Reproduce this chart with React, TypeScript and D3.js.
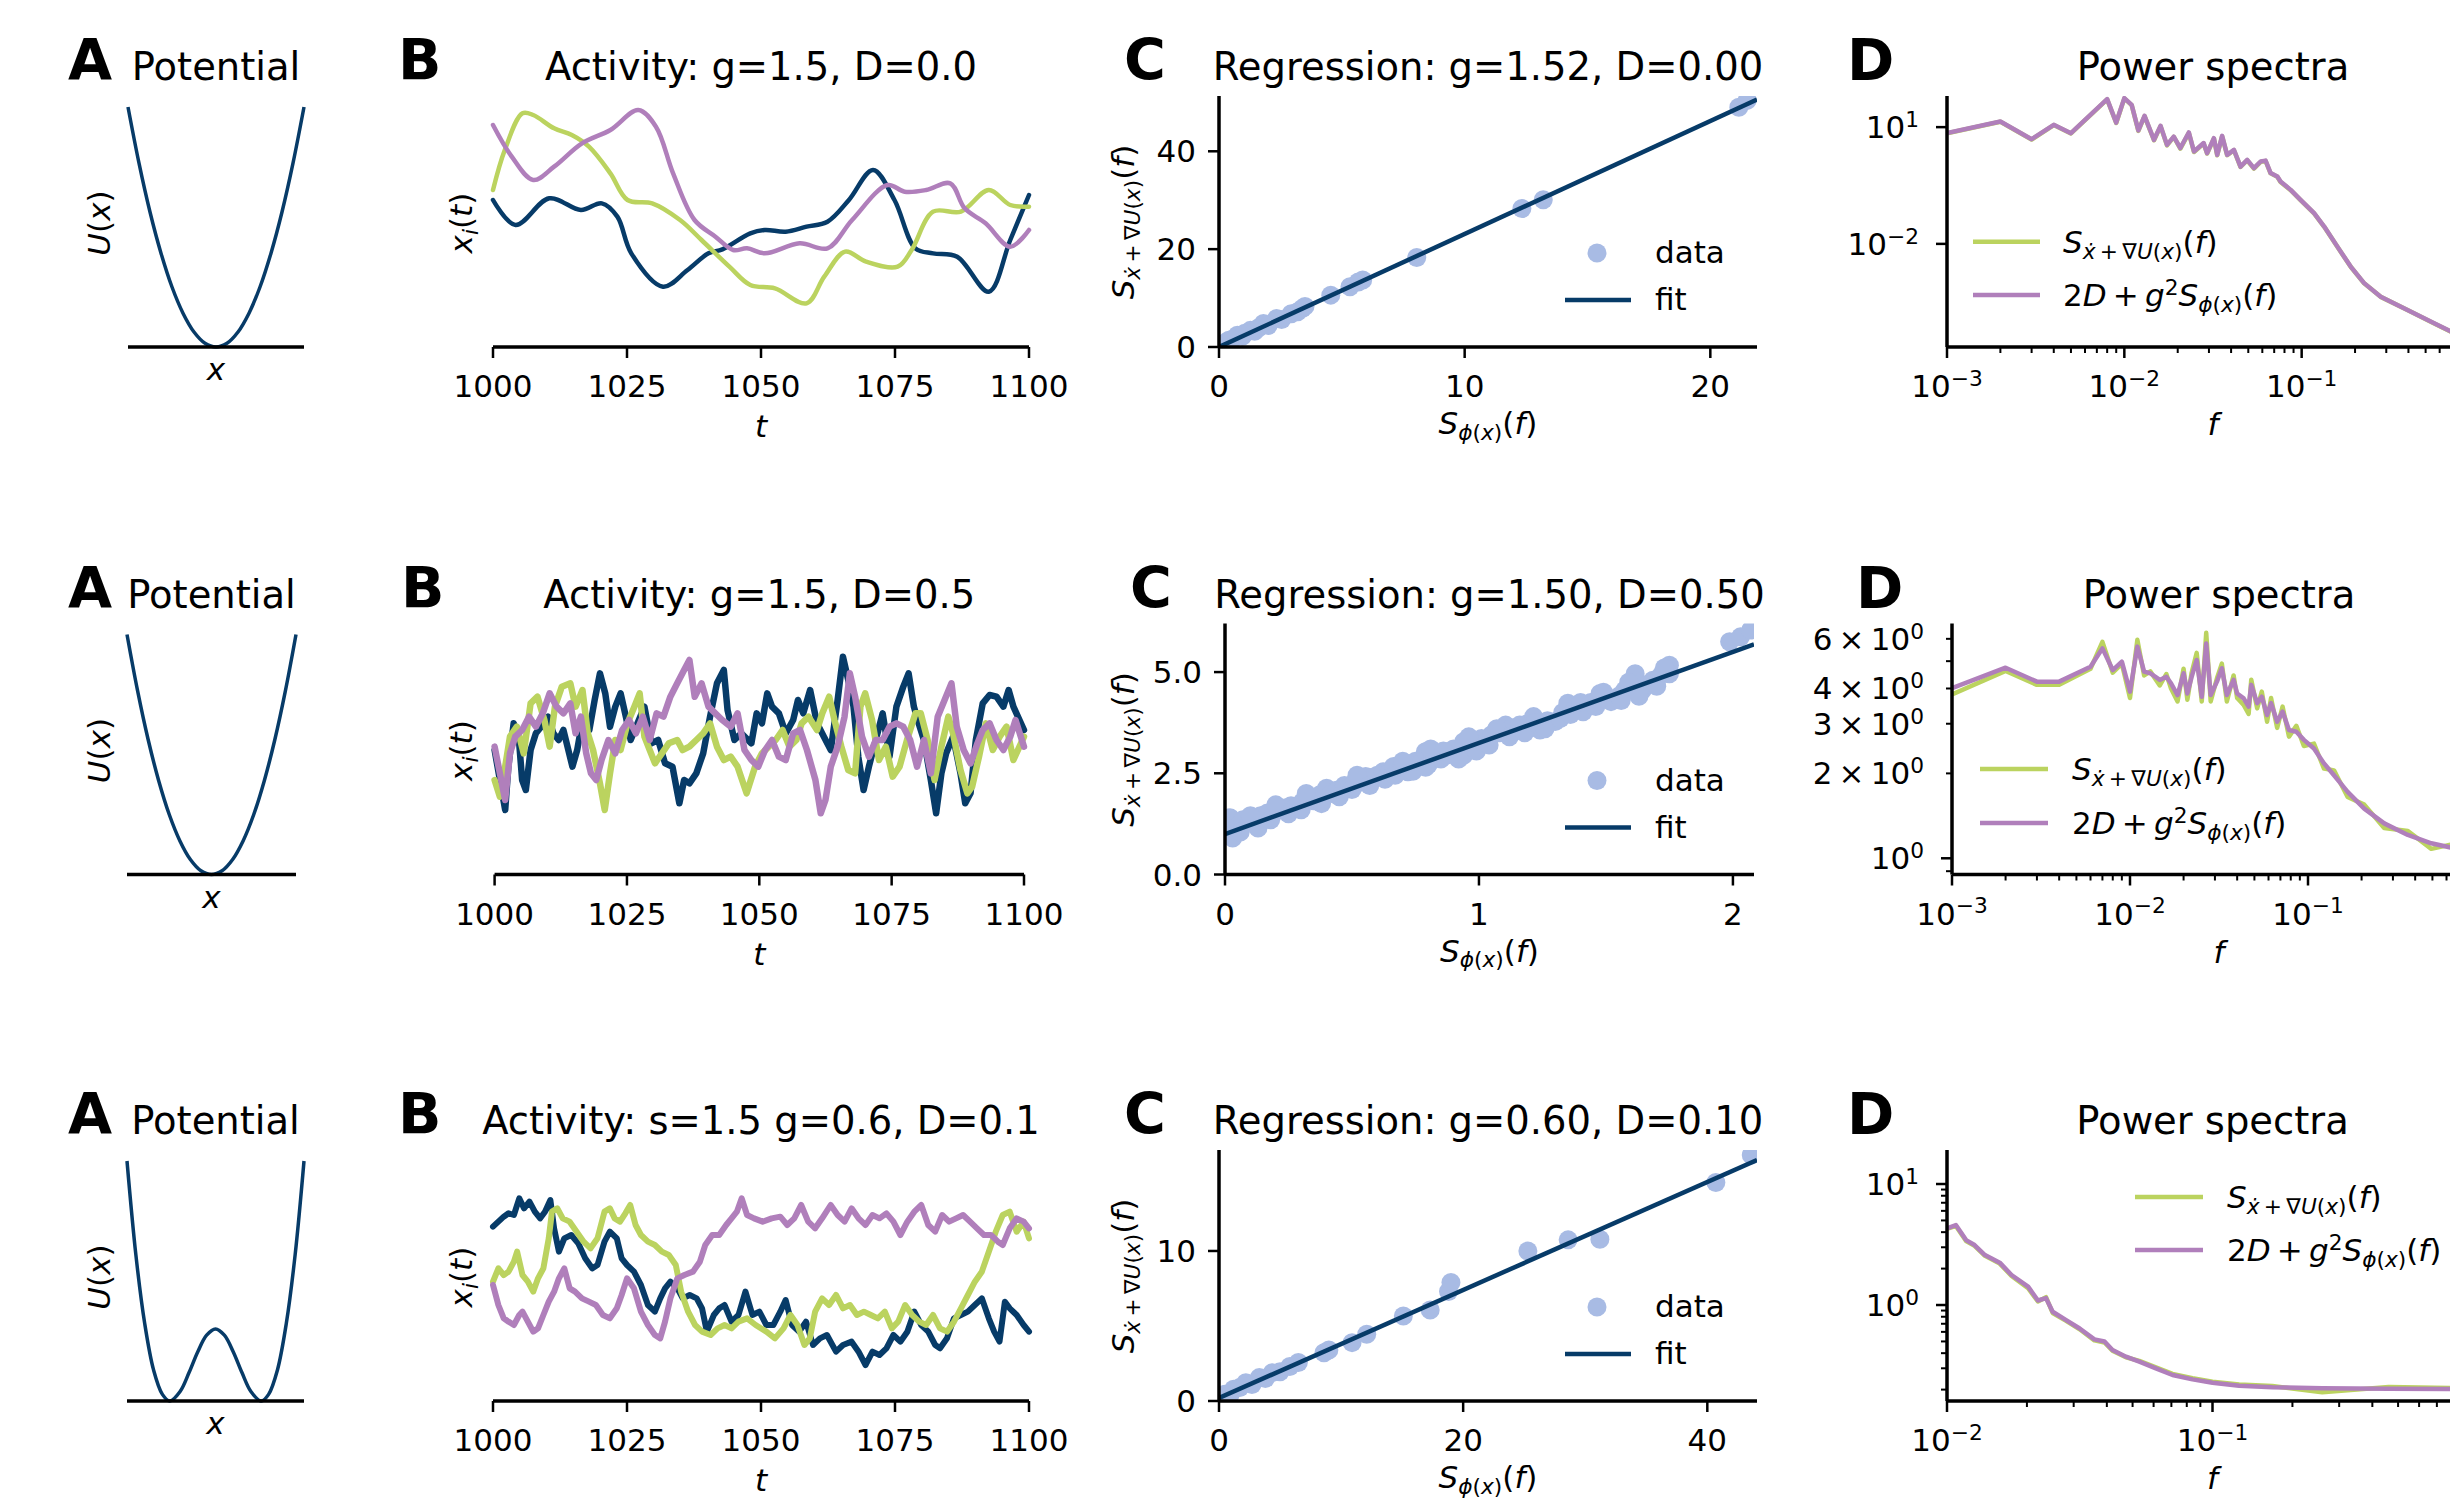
import React from "react";
import * as d3 from "d3";

const W = 2450;
const H = 1502;
const FONT = "'DejaVu Sans', sans-serif";
const NAVY = "#073b68";
const GREEN = "#bbd35f";
const PURPLE = "#b07fbb";
const DOT = "#a8bbe4";
const FS = 31;
const TFS = 38.5;
const LFS = 57;

// ---------------- DATA ----------------
// Panel A potentials
const wellX = [-1, -0.875, -0.75, -0.625, -0.5, -0.375, -0.25, -0.125, 0, 0.125, 0.25, 0.375, 0.5, 0.625, 0.75, 0.875, 1];
const wellU = [1, 0.766, 0.5625, 0.391, 0.25, 0.141, 0.0625, 0.0156, 0, 0.0156, 0.0625, 0.141, 0.25, 0.391, 0.5625, 0.766, 1];
const doubleX = [-2.5, -2.25, -2, -1.75, -1.5, -1.29, -1.0, -0.75, -0.5, -0.25, 0, 0.25, 0.5, 0.75, 1.0, 1.29, 1.5, 1.75, 2, 2.25, 2.5];
const doubleU = [0.579, 0.353, 0.187, 0.075, 0.016, 0, 0.023, 0.068, 0.119, 0.159, 0.174, 0.159, 0.119, 0.068, 0.023, 0, 0.016, 0.075, 0.187, 0.353, 0.579];

// Panel B activity traces [t, x_i]
const act1Navy = [[1000, 0.0], [1004.2, -0.75], [1010.5, 0.05], [1016.4, -0.3], [1020.3, -0.1], [1023.2, -0.5], [1025.8, -1.6], [1031.7, -2.6], [1036.3, -2.1], [1040.2, -1.6], [1042.8, -1.48], [1048.0, -1.0], [1050.7, -0.9], [1054.6, -0.95], [1058.5, -0.8], [1062.4, -0.65], [1066.4, 0.0], [1070.9, 0.9], [1074.9, 0.0], [1078.8, -1.45], [1082.1, -1.6], [1086.6, -1.7], [1092.5, -2.75], [1096.5, -1.2], [1100, 0.15]];
const act1Green = [[1000, 0.3], [1002.2, 1.5], [1005.5, 2.6], [1007.5, 2.55], [1011.4, 2.15], [1014.7, 1.95], [1017.9, 1.6], [1021.9, 0.8], [1025.1, 0.0], [1029.7, -0.1], [1034.9, -0.6], [1038.9, -1.2], [1044.1, -2.0], [1048.0, -2.55], [1052.6, -2.65], [1058.5, -3.1], [1061.8, -2.3], [1065.7, -1.55], [1069.6, -1.85], [1075.5, -2.0], [1078.1, -1.5], [1082.1, -0.35], [1087.3, -0.35], [1092.5, 0.3], [1096.5, -0.15], [1100, -0.2]];
const act1Purple = [[1000, 2.25], [1003.5, 1.3], [1007.5, 0.6], [1011.4, 1.0], [1016.6, 1.7], [1021.9, 2.1], [1027.1, 2.7], [1030.4, 2.2], [1033.6, 0.8], [1037.6, -0.6], [1041.5, -1.1], [1044.8, -1.5], [1047.4, -1.45], [1050.7, -1.6], [1057.2, -1.3], [1062.4, -1.45], [1067.0, -0.6], [1073.6, 0.45], [1076.8, 0.25], [1080.8, 0.3], [1085.3, 0.5], [1088.0, -0.25], [1091.9, -0.7], [1096.5, -1.4], [1100, -0.9]];

const act2Navy = [[1000, -0.3], [1001.0, -1.2], [1002.0, -2.1], [1002.6, -0.8], [1003.6, 0.5], [1004.6, 0.0], [1005.2, -1.2], [1005.9, -1.5], [1006.8, -0.3], [1007.8, 0.2], [1008.8, 0.4], [1010.1, 0.7], [1011.1, 0.2], [1012.1, 0.0], [1013.0, 0.3], [1014.7, -0.8], [1015.6, -0.3], [1016.6, 0.6], [1017.9, 0.3], [1018.9, 1.2], [1019.9, 2.0], [1020.9, 1.4], [1021.8, 0.4], [1022.8, 1.0], [1023.8, 1.4], [1024.8, 0.7], [1025.7, 0.0], [1027.0, 0.5], [1028.3, 1.0], [1029.6, -0.1], [1030.9, 0.0], [1032.2, -0.7], [1033.6, -0.8], [1034.9, -1.9], [1035.8, -1.2], [1036.8, -1.3], [1038.1, -1.0], [1039.4, -0.4], [1040.7, 0.7], [1042.0, 1.7], [1043.3, 2.1], [1044.0, 0.9], [1045.3, 0.0], [1046.6, 0.2], [1048.5, -0.1], [1049.5, 0.8], [1050.5, 0.5], [1051.5, 1.4], [1052.4, 1.0], [1053.7, 0.8], [1055.0, 0.2], [1056.4, 0.6], [1057.3, 1.2], [1058.3, 0.8], [1059.6, 1.5], [1060.9, 0.5], [1062.2, 0.1], [1063.5, -0.3], [1064.8, 1.2], [1065.8, 2.5], [1066.8, 1.8], [1067.8, 1.0], [1068.7, -0.5], [1069.7, -1.5], [1070.7, -0.8], [1072.0, 0.0], [1073.3, 0.8], [1074.6, -0.5], [1075.9, 1.0], [1077.2, 1.6], [1078.2, 2.0], [1079.2, 1.0], [1080.1, 0.5], [1081.1, 0.0], [1082.4, -1.2], [1083.4, -2.2], [1084.4, -1.0], [1085.3, -0.4], [1086.6, 0.1], [1088.0, -1.0], [1088.9, -1.9], [1089.9, -1.6], [1090.9, 0.0], [1092.2, 1.1], [1093.5, 1.35], [1094.8, 1.3], [1096.1, 1.0], [1097.1, 1.5], [1098.0, 1.0], [1100, 0.3]];
const act2Green = [[1000, -1.2], [1001.0, -1.7], [1002.0, -0.8], [1002.9, 0.1], [1004.2, 0.4], [1005.5, -0.4], [1006.8, 1.1], [1008.1, 1.3], [1009.4, 0.6], [1010.4, -0.2], [1011.4, 1.0], [1012.7, 1.6], [1014.3, 1.7], [1015.3, 1.0], [1016.6, 1.5], [1017.6, 0.2], [1018.6, -0.3], [1019.9, -1.3], [1020.8, -2.1], [1021.8, -1.0], [1022.8, 0.0], [1023.8, -0.3], [1025.1, 0.5], [1026.4, 1.0], [1027.4, 1.4], [1028.3, 0.1], [1029.3, -0.3], [1030.3, -0.7], [1031.6, -0.4], [1032.9, -0.1], [1034.5, 0.0], [1035.5, -0.3], [1036.8, -0.2], [1038.1, 0.0], [1039.4, 0.2], [1040.7, 0.5], [1042.0, -0.2], [1043.3, -0.6], [1044.6, -0.5], [1045.9, -0.8], [1047.6, -1.6], [1049.2, -0.8], [1050.5, -0.4], [1051.8, -0.2], [1053.1, 0.0], [1054.4, 0.3], [1055.7, -0.2], [1057.0, 0.0], [1058.0, 0.5], [1059.3, 0.7], [1060.9, 0.3], [1061.9, 0.8], [1063.2, 1.3], [1064.2, 0.6], [1065.5, -0.2], [1066.8, -0.9], [1068.1, -1.0], [1069.1, 1.0], [1070.0, 1.4], [1071.3, 0.6], [1072.6, -0.6], [1073.9, -0.2], [1075.2, -1.1], [1076.5, -0.8], [1077.9, 0.0], [1079.5, 0.8], [1080.5, 0.8], [1081.8, 0.0], [1083.1, -1.2], [1084.4, -0.2], [1085.7, 0.7], [1086.6, 0.2], [1088.0, -0.9], [1089.3, -1.6], [1090.2, -1.4], [1091.5, -0.5], [1092.8, 0.5], [1094.1, -0.3], [1095.4, 0.1], [1096.7, 0.4], [1098.0, -0.6], [1100, 0.1]];
const act2Purple = [[1000, -0.2], [1001.0, -1.0], [1002.0, -1.8], [1002.9, -0.4], [1003.9, 0.1], [1005.2, 0.3], [1006.5, 0.7], [1007.8, 0.4], [1009.1, 0.8], [1010.4, 1.4], [1011.7, 1.0], [1013.0, 0.8], [1014.3, 1.1], [1015.3, 0.2], [1016.3, 0.7], [1017.3, -0.4], [1018.2, -1.0], [1019.2, -1.2], [1020.2, -0.6], [1021.5, 0.0], [1022.8, -0.4], [1024.1, 0.3], [1025.4, 0.6], [1026.7, 0.2], [1028.0, 0.7], [1029.3, 0.0], [1030.6, 0.8], [1031.9, 0.7], [1033.2, 1.3], [1034.5, 1.7], [1035.8, 2.1], [1036.8, 2.4], [1037.8, 1.3], [1039.1, 1.7], [1040.4, 1.0], [1041.7, 0.8], [1043.0, 0.6], [1044.6, 0.4], [1045.9, 0.8], [1047.2, -0.3], [1048.5, -0.6], [1049.8, -0.8], [1051.1, -0.3], [1052.4, 0.0], [1053.7, -0.5], [1055.0, -0.6], [1056.4, 0.2], [1057.7, 0.3], [1059.0, -0.3], [1060.6, -1.2], [1061.6, -2.2], [1062.5, -1.8], [1063.5, -0.8], [1064.8, -0.2], [1066.1, 0.7], [1067.1, 2.0], [1068.1, 1.3], [1069.4, 0.1], [1070.7, -0.5], [1072.0, 0.0], [1073.3, 0.0], [1074.6, 0.4], [1075.9, 0.5], [1077.2, 0.4], [1078.5, 0.0], [1079.8, -0.8], [1081.1, 0.0], [1082.4, -1.0], [1083.7, 0.7], [1085.0, 1.2], [1086.3, 1.7], [1087.3, 0.4], [1088.6, -0.3], [1089.9, -0.7], [1091.2, -0.1], [1092.2, 0.3], [1093.5, 0.5], [1094.8, 0.0], [1096.1, -0.3], [1097.4, 0.1], [1098.4, 0.6], [1100, -0.2]];

const act3Navy = [[1000, 1.75], [1001.0, 1.9], [1002.0, 2.05], [1002.9, 2.15], [1003.9, 2.1], [1004.9, 2.6], [1005.8, 2.3], [1006.8, 2.5], [1007.8, 2.2], [1008.8, 2.0], [1009.7, 2.2], [1010.7, 2.55], [1011.4, 1.7], [1012.3, 1.0], [1013.3, 1.4], [1014.6, 1.5], [1015.9, 1.25], [1017.2, 0.8], [1018.5, 0.5], [1019.5, 0.6], [1020.8, 1.3], [1021.8, 1.6], [1023.1, 1.4], [1024.0, 0.8], [1025.0, 0.6], [1026.3, 0.4], [1027.6, 0.0], [1028.9, -0.6], [1030.2, -0.8], [1031.2, -0.4], [1032.1, -0.1], [1033.1, 0.1], [1034.4, -0.1], [1035.4, -0.4], [1036.7, -0.3], [1038.0, -0.4], [1039.0, -0.7], [1039.9, -1.4], [1041.2, -0.9], [1042.2, -0.7], [1043.2, -0.6], [1044.5, -1.1], [1045.8, -0.9], [1047.1, -0.2], [1048.4, -0.9], [1049.7, -0.8], [1051.0, -1.2], [1052.3, -1.2], [1053.6, -0.8], [1054.6, -0.45], [1055.8, -1.2], [1057.1, -1.4], [1058.4, -1.1], [1059.7, -1.8], [1061.0, -1.6], [1062.3, -1.5], [1064.0, -2.0], [1065.3, -1.8], [1066.9, -1.7], [1068.2, -2.0], [1069.5, -2.4], [1070.8, -2.0], [1072.1, -2.1], [1073.4, -1.9], [1074.7, -1.5], [1076.0, -1.7], [1077.3, -1.4], [1078.6, -0.8], [1079.9, -1.2], [1081.2, -1.4], [1082.5, -1.8], [1083.4, -1.9], [1084.7, -1.6], [1086.0, -1.0], [1087.3, -0.9], [1088.6, -0.8], [1089.9, -0.6], [1091.2, -0.4], [1092.5, -1.0], [1093.5, -1.4], [1094.5, -1.7], [1095.5, -0.5], [1096.4, -0.7], [1097.7, -0.9], [1099.0, -1.2], [1100, -1.4]];
const act3Green = [[1000, 0.1], [1001.0, 0.5], [1002.0, 0.3], [1002.9, 0.4], [1003.9, 0.7], [1004.5, 1.0], [1005.5, 0.3], [1006.5, 0.1], [1007.5, -0.2], [1008.4, 0.2], [1009.4, 0.5], [1010.4, 1.4], [1011.0, 2.2], [1012.0, 2.3], [1013.0, 2.0], [1014.3, 1.9], [1015.6, 1.6], [1016.9, 1.3], [1018.2, 1.1], [1019.5, 1.4], [1020.8, 2.2], [1021.8, 2.3], [1022.7, 2.0], [1023.7, 1.9], [1024.7, 2.15], [1025.6, 2.4], [1026.6, 1.8], [1027.6, 1.5], [1028.9, 1.3], [1030.2, 1.2], [1031.5, 1.0], [1032.8, 0.9], [1034.1, 0.6], [1035.1, -0.2], [1036.4, -0.8], [1037.7, -1.2], [1039.0, -1.4], [1040.6, -1.5], [1041.9, -1.3], [1043.2, -1.2], [1044.5, -1.3], [1045.8, -1.1], [1047.4, -1.0], [1049.0, -1.2], [1051.0, -1.4], [1052.6, -1.6], [1054.2, -1.3], [1055.5, -0.9], [1056.8, -1.2], [1058.1, -1.8], [1059.1, -1.6], [1060.1, -0.8], [1061.4, -0.4], [1062.7, -0.6], [1064.0, -0.3], [1065.3, -0.7], [1066.6, -0.6], [1067.9, -0.9], [1069.2, -0.8], [1070.5, -0.9], [1071.8, -1.0], [1073.1, -0.8], [1074.4, -1.3], [1075.6, -1.1], [1076.9, -0.6], [1078.2, -0.9], [1079.5, -1.1], [1080.8, -1.2], [1082.1, -0.9], [1083.4, -1.3], [1084.7, -1.4], [1086.0, -1.1], [1087.3, -0.7], [1088.6, -0.3], [1089.9, 0.1], [1091.2, 0.4], [1092.5, 1.0], [1093.8, 1.6], [1095.1, 2.1], [1096.4, 2.2], [1097.7, 1.6], [1099.0, 1.9], [1100, 1.4]];
const act3Purple = [[1000, 0.0], [1001.0, -0.6], [1002.0, -1.0], [1002.9, -1.1], [1003.9, -1.2], [1004.9, -0.9], [1005.5, -0.8], [1006.5, -1.1], [1007.5, -1.4], [1008.4, -1.3], [1009.4, -0.9], [1010.4, -0.5], [1011.4, -0.2], [1012.3, 0.2], [1013.3, 0.5], [1014.3, -0.1], [1015.3, -0.2], [1016.6, -0.4], [1017.9, -0.5], [1019.2, -0.6], [1020.5, -0.9], [1021.8, -1.0], [1023.1, -0.7], [1024.0, -0.3], [1025.0, 0.2], [1026.3, -0.1], [1027.6, -0.8], [1028.9, -1.2], [1030.2, -1.5], [1031.2, -1.6], [1032.1, -1.1], [1033.1, -0.4], [1034.4, 0.2], [1035.7, 0.3], [1037.3, 0.4], [1038.6, 0.7], [1039.6, 1.2], [1040.9, 1.5], [1042.2, 1.5], [1043.5, 1.8], [1044.5, 2.0], [1045.5, 2.2], [1046.4, 2.6], [1047.4, 2.1], [1048.7, 2.0], [1050.3, 1.9], [1052.0, 2.0], [1053.6, 2.05], [1054.9, 1.8], [1056.2, 2.0], [1057.5, 2.4], [1058.8, 1.9], [1060.1, 1.7], [1061.4, 2.0], [1063.0, 2.4], [1064.3, 2.1], [1065.6, 1.9], [1066.9, 2.3], [1068.2, 2.0], [1069.5, 1.8], [1070.8, 2.1], [1072.1, 2.0], [1073.4, 2.15], [1074.7, 1.9], [1076.0, 1.5], [1077.3, 1.9], [1078.6, 2.2], [1079.9, 2.4], [1081.2, 1.8], [1082.5, 1.6], [1083.8, 2.1], [1085.1, 1.9], [1086.4, 2.0], [1087.7, 2.1], [1089.0, 1.9], [1090.3, 1.7], [1091.6, 1.5], [1092.9, 1.5], [1094.2, 1.3], [1095.1, 1.2], [1096.4, 1.7], [1097.7, 2.0], [1099.0, 1.9], [1100, 1.7]];

// Panel C regression scatter [S_phi, S_xdot]
const reg1Data = [[0.12, 0.4], [0.25, 0.8], [0.4, 1.4], [0.55, 1.6], [0.75, 2.4], [0.95, 2.2], [1.05, 2.8], [1.28, 3.4], [1.45, 3.2], [1.6, 3.9], [1.81, 4.8], [2.0, 4.4], [2.34, 5.8], [2.55, 5.6], [2.94, 6.8], [3.2, 7.2], [3.39, 7.85], [3.5, 8.3], [4.55, 10.6], [5.33, 12.3], [5.67, 13.3], [5.85, 13.7], [8.05, 18.3], [12.33, 28.3], [13.2, 30.1], [21.16, 49.0], [21.5, 50.4]];
const reg2Data = [[0.0, 1.0], [0.01, 1.15], [0.02, 1.4], [0.03, 0.9], [0.05, 1.2], [0.07, 1.35], [0.095, 1.32], [0.12, 1.3], [0.14, 1.45], [0.167, 1.52], [0.19, 1.5], [0.21, 1.62], [0.236, 1.64], [0.26, 1.7], [0.28, 1.68], [0.305, 1.8], [0.33, 1.85], [0.35, 1.82], [0.374, 1.97], [0.4, 2.13], [0.42, 2.0], [0.443, 2.09], [0.47, 2.2], [0.49, 2.15], [0.512, 2.3], [0.534, 2.28], [0.554, 2.42], [0.58, 2.4], [0.6, 2.45], [0.623, 2.54], [0.645, 2.5], [0.664, 2.67], [0.69, 2.6], [0.72, 2.54], [0.75, 2.8], [0.77, 2.75], [0.789, 3.03], [0.8, 2.71], [0.82, 2.9], [0.85, 2.85], [0.872, 2.95], [0.9, 3.1], [0.94, 3.28], [0.94, 2.95], [0.97, 3.2], [1.01, 3.36], [1.03, 3.3], [1.05, 3.45], [1.08, 3.5], [1.105, 3.69], [1.13, 3.62], [1.16, 3.69], [1.19, 3.72], [1.215, 3.9], [1.24, 3.57], [1.27, 3.8], [1.3, 3.78], [1.33, 4.0], [1.35, 4.23], [1.38, 4.1], [1.41, 4.02], [1.44, 4.25], [1.477, 4.47], [1.5, 4.35], [1.52, 4.27], [1.55, 4.4], [1.574, 4.55], [1.6, 4.62], [1.615, 4.96], [1.643, 4.55], [1.665, 4.7], [1.685, 4.8], [1.72, 4.95], [1.75, 5.17], [1.75, 4.96], [1.987, 5.75], [2.03, 5.87], [2.07, 6.04],
  [0.06, 1.05], [0.1, 1.45], [0.13, 1.15], [0.18, 1.35], [0.2, 1.72], [0.25, 1.5], [0.3, 1.6], [0.32, 2.0], [0.38, 1.75], [0.45, 1.92], [0.5, 2.1], [0.52, 2.45], [0.57, 2.2], [0.63, 2.35], [0.67, 2.45], [0.7, 2.8], [0.74, 2.55], [0.79, 2.65], [0.81, 3.1], [0.86, 3.05], [0.92, 2.85], [0.96, 3.4], [0.99, 3.05], [1.04, 3.2], [1.07, 3.6], [1.12, 3.4], [1.18, 3.5], [1.22, 3.75], [1.26, 3.6], [1.32, 3.85], [1.36, 3.95], [1.4, 4.25], [1.46, 4.15], [1.49, 4.5], [1.56, 4.3], [1.59, 4.75], [1.63, 4.4], [1.7, 4.65], [1.73, 5.1]];
const reg3Data = [[0.5, 0.45], [0.9, 0.4], [1.2, 0.78], [1.7, 0.9], [2.2, 1.22], [2.7, 1.1], [3.3, 1.56], [3.8, 1.5], [4.37, 1.89], [5.0, 1.95], [5.8, 2.3], [6.5, 2.56], [8.6, 3.22], [9.0, 3.4], [10.9, 3.89], [12.1, 4.45], [15.1, 5.67], [17.3, 6.07], [18.8, 7.3], [19.0, 7.9], [25.3, 10.0], [28.6, 10.74], [31.2, 10.78], [40.7, 14.56], [43.6, 16.4]];

// Panel D power spectra
const spec1F = [0.001, 0.002, 0.003, 0.004, 0.005, 0.008, 0.009, 0.010, 0.011, 0.012, 0.013, 0.0147, 0.016, 0.0174, 0.019, 0.0207, 0.0231, 0.0247, 0.028, 0.0293, 0.032, 0.0334, 0.0356, 0.038, 0.0415, 0.0452, 0.0493, 0.0538, 0.0587, 0.0626, 0.0668, 0.0729, 0.076, 0.0867, 0.0986, 0.1175, 0.134, 0.159, 0.189, 0.225, 0.279, 0.395, 0.559, 0.695, 1.0];
const spec1Purple = [7.0, 13.9, 4.9, 11.5, 7.0, 52.4, 13.1, 55.6, 37.4, 8.2, 19.5, 4.72, 10.8, 3.5, 5.7, 2.9, 7.3, 2.36, 3.9, 2.14, 5.2, 1.94, 5.97, 1.94, 2.6, 0.97, 1.44, 0.88, 1.31, 1.38, 0.66, 0.54, 0.40, 0.244, 0.135, 0.0616, 0.0279, 0.0085, 0.00261, 0.00098, 0.00044, 0.000201, 0.0000912, 0.0000558, 0.000026];
const spec1Green = [6.9, 13.7, 4.8, 11.3, 6.9, 51.5, 12.8, 54.8, 36.8, 8.0, 19.1, 4.6, 10.6, 3.4, 5.6, 2.8, 7.1, 2.3, 3.8, 2.1, 5.1, 1.9, 5.8, 1.9, 2.55, 0.95, 1.41, 0.86, 1.28, 1.35, 0.65, 0.53, 0.39, 0.24, 0.133, 0.0608, 0.0275, 0.0084, 0.00258, 0.00097, 0.000435, 0.000199, 0.000090, 0.0000552, 0.0000258];

const spec2F = [0.001, 0.002, 0.003, 0.004, 0.006, 0.007, 0.008, 0.009, 0.010, 0.011, 0.012, 0.013, 0.0147, 0.016, 0.017, 0.0185, 0.020, 0.021, 0.0222, 0.0237, 0.0253, 0.0268, 0.0284, 0.0308, 0.0328, 0.035, 0.0382, 0.040, 0.0435, 0.0464, 0.048, 0.0518, 0.055, 0.0589, 0.062, 0.0671, 0.072, 0.0782, 0.086, 0.0948, 0.108, 0.123, 0.140, 0.167, 0.207, 0.268, 0.364, 0.493, 0.64, 1.0];
const spec2Purple = [4.01, 4.74, 4.23, 4.23, 4.78, 5.55, 4.65, 4.98, 3.90, 5.63, 4.59, 4.53, 4.29, 4.40, 4.17, 3.79, 4.53, 3.84, 4.40, 5.05, 3.74, 5.78, 3.79, 4.23, 4.72, 3.79, 4.29, 3.84, 3.69, 3.45, 4.12, 3.55, 3.74, 3.22, 3.55, 3.05, 3.31, 2.85, 2.81, 2.63, 2.45, 2.17, 1.97, 1.72, 1.50, 1.33, 1.21, 1.13, 1.09, 1.05];
const spec2Green = [3.81, 4.62, 4.12, 4.12, 4.70, 5.85, 4.55, 4.90, 3.70, 5.95, 4.45, 4.60, 4.10, 4.50, 4.00, 3.60, 4.70, 3.65, 4.55, 5.35, 3.60, 6.30, 3.60, 4.35, 4.90, 3.60, 4.45, 3.70, 3.50, 3.25, 4.30, 3.40, 3.90, 3.05, 3.70, 2.90, 3.45, 2.70, 2.95, 2.50, 2.55, 2.08, 2.05, 1.65, 1.55, 1.28, 1.25, 1.08, 1.12, 1.02];

const spec3F = [0.010, 0.0108, 0.0118, 0.0127, 0.0139, 0.0158, 0.0175, 0.0202, 0.022, 0.0236, 0.025, 0.0281, 0.0316, 0.0359, 0.0392, 0.042, 0.0472, 0.053, 0.0612, 0.0707, 0.0841, 0.10, 0.126, 0.168, 0.259, 0.461, 1.0];
const spec3Purple = [4.30, 4.58, 3.44, 3.13, 2.59, 2.24, 1.77, 1.42, 1.09, 1.14, 0.88, 0.75, 0.64, 0.52, 0.50, 0.425, 0.374, 0.34, 0.30, 0.264, 0.243, 0.228, 0.215, 0.209, 0.205, 0.203, 0.202];
const spec3Green = [4.25, 4.50, 3.38, 3.08, 2.55, 2.20, 1.74, 1.38, 1.07, 1.16, 0.86, 0.74, 0.63, 0.51, 0.49, 0.42, 0.37, 0.345, 0.305, 0.27, 0.248, 0.232, 0.22, 0.214, 0.19, 0.21, 0.205];

// Titles and parameters
const activityTitles = ["Activity: g=1.5, D=0.0", "Activity: g=1.5, D=0.5", "Activity: s=1.5 g=0.6, D=0.1"];
const fitG = [1.52, 1.5, 0.6];
const fitD = [0.0, 0.5, 0.1];
const regTitles = ["Regression: g=1.52, D=0.00", "Regression: g=1.50, D=0.50", "Regression: g=0.60, D=0.10"];
const tTicks = [1000, 1025, 1050, 1075, 1100];
const cXTicks = [[0, 10, 20], [0, 1, 2], [0, 20, 40]];
const cYTicks = [[0, 20, 40], [0, 2.5, 5.0], [0, 10]];
const cYTickLabels = [["0", "20", "40"], ["0.0", "2.5", "5.0"], ["0", "10"]];
const cXDomain = [[0, 21.9], [0, 2.083], [0, 44.07]];
const cYDomain = [[0, 51.3], [0, 6.2], [0, 16.73]];
const dXDomain = [[0.001, 1], [0.001, 1], [0.01, 1]];
const dYDomain = [[Math.pow(10, -4.65), Math.pow(10, 1.8)], [0.876, 6.8], [0.161, 19.1]];

// ---------------- LAYOUT ----------------
const BOTTOM = 347;
const TOP = 96;
const A_TOP = 107;
const TITLE_Y = 80;
const ROWS = [
  { dy: 0, A: [128, 304], B: [493, 1029], C: [1219, 1757], D: [1947, 2479], letters: [68, 398, 1124, 1847], bMid: 200, leg: [1973, 2040, 241.7, 295, 2063], bw: 4.5 },
  { dy: 527.5, A: [127, 296], B: [494.6, 1024], C: [1225, 1754], D: [1952, 2486], letters: [68, 401, 1130, 1856], bMid: 212.5, leg: [1980, 2048, 241.5, 295.5, 2072], bw: 6.5 },
  { dy: 1054, A: [127, 304], B: [493, 1029], C: [1219, 1757], D: [1947, 2478], letters: [68, 398, 1124, 1847], bMid: 231, leg: [2135, 2203, 143, 196, 2227], bw: 6 },
];
const potentials = [[wellX, wellU], [wellX, wellU], [doubleX, doubleU]];
const activities = [[act1Navy, act1Green, act1Purple], [act2Navy, act2Green, act2Purple], [act3Navy, act3Green, act3Purple]];
const regData = [reg1Data, reg2Data, reg3Data];
const specs = [[spec1F, spec1Green, spec1Purple], [spec2F, spec2Green, spec2Purple], [spec3F, spec3Green, spec3Purple]];

const SPINE = 3.5;
const TICKW = 2.5;
const DOT_R = 9.5;
const SUB = 0.19;

// ---------------- MATHTEXT HELPERS ----------------
const It = (p: { children: any }) => <tspan fontStyle="italic">{p.children}</tspan>;

function SxdotLabel(s: number) {
  return (
    <>
      <It>S</It>
      <tspan fontSize={s * 0.7} dy={s * SUB}>
        <It>ẋ</It>{"\u2009+\u2009∇"}<It>U</It>(<It>x</It>)
      </tspan>
      <tspan dy={-s * SUB}>(</tspan>
      <It>f</It>)
    </>
  );
}
function SphiLabel(s: number) {
  return (
    <>
      <It>S</It>
      <tspan fontSize={s * 0.7} dy={s * SUB}>
        <It>ϕ</It>(<It>x</It>)
      </tspan>
      <tspan dy={-s * SUB}>(</tspan>
      <It>f</It>)
    </>
  );
}
function TwoDLabel(s: number) {
  return (
    <>
      2<It>D</It>{"\u2009+\u2009"}<It>g</It>
      <tspan fontSize={s * 0.7} dy={-s * 0.36}>2</tspan>
      <tspan fontStyle="italic" dy={s * 0.36}>S</tspan>
      <tspan fontSize={s * 0.7} dy={s * SUB}>
        <It>ϕ</It>(<It>x</It>)
      </tspan>
      <tspan dy={-s * SUB}>(</tspan>
      <It>f</It>)
    </>
  );
}
function PowText(props: { x: number; y: number; anchor: string; exp: string; mant?: string }) {
  const s = FS;
  return (
    <text x={props.x} y={props.y} textAnchor={props.anchor} fontSize={s}>
      {props.mant ? `${props.mant}\u2009×\u200910` : "10"}
      <tspan fontSize={s * 0.7} dy={-s * 0.36}>{props.exp}</tspan>
    </text>
  );
}
const expStr = (v: number) => {
  const e = Math.round(Math.log10(v));
  return e < 0 ? "\u2212" + Math.abs(e) : String(e);
};

// ---------------- PANELS ----------------
function PanelA({ r, i }: any) {
  const [px, pu] = potentials[i];
  const xs = d3.scaleLinear().domain([px[0], px[px.length - 1]]).range([r.A[0], r.A[1]]);
  const ys = d3.scaleLinear().domain([0, d3.max(pu) as number]).range([BOTTOM, A_TOP]);
  const line = d3.line<number>().x((_d, k) => xs(px[k])).y((d) => ys(d)).curve(d3.curveCatmullRom);
  const cx = (r.A[0] + r.A[1]) / 2;
  return (
    <g>
      <text x={r.letters[0]} y={TITLE_Y} fontSize={LFS} fontWeight="bold">A</text>
      <text x={cx} y={TITLE_Y} fontSize={TFS} textAnchor="middle">Potential</text>
      <path d={line(pu) || ""} fill="none" stroke={NAVY} strokeWidth={3.5} />
      <line x1={r.A[0]} x2={r.A[1]} y1={BOTTOM} y2={BOTTOM} stroke="#000" strokeWidth={SPINE} />
      <text x={cx} y={BOTTOM + 33} fontSize={FS} textAnchor="middle"><It>x</It></text>
      <text transform={`translate(110,223) rotate(-90)`} fontSize={FS} textAnchor="middle">
        <It>U</It>(<It>x</It>)
      </text>
    </g>
  );
}

function PanelB({ r, i }: any) {
  const xs = d3.scaleLinear().domain([1000, 1100]).range([r.B[0], r.B[1]]);
  const ys = d3.scaleLinear().domain([-3, 3]).range([r.bMid + 100, r.bMid - 100]);
  const line = d3.line<number[]>().x((d) => xs(d[0])).y((d) => ys(d[1])).curve(i === 0 ? d3.curveCatmullRom : d3.curveLinear);
  const colors = [NAVY, GREEN, PURPLE];
  const cx = (r.B[0] + r.B[1]) / 2;
  return (
    <g>
      <text x={r.letters[1]} y={TITLE_Y} fontSize={LFS} fontWeight="bold">B</text>
      <text x={cx} y={TITLE_Y} fontSize={TFS} textAnchor="middle">{activityTitles[i]}</text>
      {activities[i].map((tr: any, k: number) => (
        <path key={k} d={line(tr) || ""} fill="none" stroke={colors[k]} strokeWidth={r.bw} strokeLinejoin="round" strokeLinecap="round" />
      ))}
      <line x1={r.B[0]} x2={r.B[1]} y1={BOTTOM} y2={BOTTOM} stroke="#000" strokeWidth={SPINE} />
      {tTicks.map((t) => (
        <g key={t}>
          <line x1={xs(t)} x2={xs(t)} y1={BOTTOM} y2={BOTTOM + 11} stroke="#000" strokeWidth={TICKW} />
          <text x={xs(t)} y={BOTTOM + 50} fontSize={FS} textAnchor="middle">{t}</text>
        </g>
      ))}
      <text x={cx} y={BOTTOM + 90} fontSize={FS} textAnchor="middle"><It>t</It></text>
      <text transform={`translate(472,223) rotate(-90)`} fontSize={FS} textAnchor="middle">
        <It>x</It>
        <tspan fontSize={FS * 0.7} fontStyle="italic" dy={FS * SUB}>i</tspan>
        <tspan dy={-FS * SUB}>(</tspan>
        <It>t</It>)
      </text>
    </g>
  );
}

function PanelC({ r, i }: any) {
  const xs = d3.scaleLinear().domain(cXDomain[i]).range([r.C[0], r.C[1]]);
  const ys = d3.scaleLinear().domain(cYDomain[i]).range([BOTTOM, TOP]);
  const g2 = fitG[i] * fitG[i];
  const x1 = cXDomain[i][1];
  const cx = (r.C[0] + r.C[1]) / 2;
  const clipId = `clipC${i}`;
  return (
    <g>
      <defs>
        <clipPath id={clipId}>
          <rect x={r.C[0]} y={TOP} width={r.C[1] - r.C[0]} height={BOTTOM - TOP} />
        </clipPath>
      </defs>
      <text x={r.letters[2]} y={TITLE_Y} fontSize={LFS} fontWeight="bold">C</text>
      <text x={cx} y={TITLE_Y} fontSize={TFS} textAnchor="middle">{regTitles[i]}</text>
      <g clipPath={`url(#${clipId})`}>
        {regData[i].map((d: number[], k: number) => (
          <circle key={k} cx={xs(d[0])} cy={ys(d[1])} r={DOT_R} fill={DOT} />
        ))}
        <line x1={xs(0)} y1={ys(2 * fitD[i])} x2={xs(x1)} y2={ys(g2 * x1 + 2 * fitD[i])} stroke={NAVY} strokeWidth={4.5} />
      </g>
      <line x1={r.C[0]} x2={r.C[1]} y1={BOTTOM} y2={BOTTOM} stroke="#000" strokeWidth={SPINE} />
      <line x1={r.C[0]} x2={r.C[0]} y1={TOP} y2={BOTTOM} stroke="#000" strokeWidth={SPINE} />
      {cXTicks[i].map((t) => (
        <g key={"x" + t}>
          <line x1={xs(t)} x2={xs(t)} y1={BOTTOM} y2={BOTTOM + 11} stroke="#000" strokeWidth={TICKW} />
          <text x={xs(t)} y={BOTTOM + 50} fontSize={FS} textAnchor="middle">{t}</text>
        </g>
      ))}
      {cYTicks[i].map((t, k) => (
        <g key={"y" + t}>
          <line x1={r.C[0] - 11} x2={r.C[0]} y1={ys(t)} y2={ys(t)} stroke="#000" strokeWidth={TICKW} />
          <text x={r.C[0] - 23} y={ys(t) + 11} fontSize={FS} textAnchor="end">{cYTickLabels[i][k]}</text>
        </g>
      ))}
      <text x={cx} y={BOTTOM + 87} fontSize={FS} textAnchor="middle">{SphiLabel(FS)}</text>
      <text transform={`translate(1134,222) rotate(-90)`} fontSize={FS} textAnchor="middle">{SxdotLabel(FS)}</text>
      {/* legend */}
      <circle cx={1597} cy={253} r={DOT_R} fill={DOT} />
      <text x={1655} y={263} fontSize={FS}>data</text>
      <line x1={1565} x2={1631} y1={300} y2={300} stroke={NAVY} strokeWidth={4.5} />
      <text x={1655} y={310} fontSize={FS}>fit</text>
    </g>
  );
}

function PanelD({ r, i }: any) {
  const xs = d3.scaleLog().domain(dXDomain[i]).range([r.D[0], r.D[1]]);
  const ys = d3.scaleLog().domain(dYDomain[i]).range([BOTTOM, TOP]);
  const [fs, gS, pS] = specs[i];
  const line = (arr: number[]) => d3.line<number>().x((_d, k) => xs(fs[k])).y((d) => ys(d))(arr) || "";
  const cx = (r.D[0] + r.D[1]) / 2;
  const clipId = `clipD${i}`;
  const [xa, xb] = dXDomain[i];
  const xMajors: number[] = [];
  const xMinors: number[] = [];
  for (let e = Math.round(Math.log10(xa)); e <= Math.round(Math.log10(xb)); e++) {
    const d = Math.pow(10, e);
    xMajors.push(d);
    for (let k = 2; k <= 9; k++) if (k * d <= xb) xMinors.push(k * d);
  }
  const [ya, yb] = dYDomain[i];
  let yMajors: number[] = [];
  let yMinors: number[] = [];
  let yMinorLabels: Record<number, string> = {};
  if (i === 0) {
    yMajors = [10, 0.01];
  } else {
    for (let e = Math.floor(Math.log10(ya)); e <= Math.floor(Math.log10(yb)); e++) {
      const d = Math.pow(10, e);
      if (d >= ya && d <= yb) yMajors.push(d);
      for (let k = 2; k <= 9; k++) if (k * d >= ya && k * d <= yb) yMinors.push(k * d);
    }
    if (i === 1) yMinorLabels = { 2: "2", 3: "3", 4: "4", 6: "6" };
  }
  const [lx0, lx1, ly0, ly1, ltx] = r.leg;
  return (
    <g>
      <defs>
        <clipPath id={clipId}>
          <rect x={r.D[0]} y={TOP} width={r.D[1] - r.D[0]} height={BOTTOM - TOP} />
        </clipPath>
      </defs>
      <text x={r.letters[3]} y={TITLE_Y} fontSize={LFS} fontWeight="bold">D</text>
      <text x={cx} y={TITLE_Y} fontSize={TFS} textAnchor="middle">Power spectra</text>
      <g clipPath={`url(#${clipId})`}>
        <path d={line(gS)} fill="none" stroke={GREEN} strokeWidth={4.5} strokeLinejoin="round" />
        <path d={line(pS)} fill="none" stroke={PURPLE} strokeWidth={4.5} strokeLinejoin="round" />
      </g>
      <line x1={r.D[0]} x2={r.D[1]} y1={BOTTOM} y2={BOTTOM} stroke="#000" strokeWidth={SPINE} />
      <line x1={r.D[0]} x2={r.D[0]} y1={TOP} y2={BOTTOM} stroke="#000" strokeWidth={SPINE} />
      {xMinors.map((t) => (
        <line key={"xm" + t} x1={xs(t)} x2={xs(t)} y1={BOTTOM} y2={BOTTOM + 6} stroke="#000" strokeWidth={2} />
      ))}
      {xMajors.map((t) => (
        <g key={"xM" + t}>
          <line x1={xs(t)} x2={xs(t)} y1={BOTTOM} y2={BOTTOM + 11} stroke="#000" strokeWidth={TICKW} />
          {xs(t) < W - 30 ? <PowText x={xs(t)} y={BOTTOM + 50} anchor="middle" exp={expStr(t)} /> : null}
        </g>
      ))}
      {yMinors.map((t) => {
        const d = Math.pow(10, Math.floor(Math.log10(t) + 1e-9));
        const m = Math.round(t / d);
        return (
          <g key={"ym" + t}>
            <line x1={r.D[0] - 6} x2={r.D[0]} y1={ys(t)} y2={ys(t)} stroke="#000" strokeWidth={2} />
            {yMinorLabels[m] && d === 1 ? (
              <PowText x={r.D[0] - 28} y={ys(t) + 11} anchor="end" exp="0" mant={yMinorLabels[m]} />
            ) : null}
          </g>
        );
      })}
      {yMajors.map((t) => (
        <g key={"yM" + t}>
          <line x1={r.D[0] - 11} x2={r.D[0]} y1={ys(t)} y2={ys(t)} stroke="#000" strokeWidth={TICKW} />
          <PowText x={r.D[0] - 28} y={ys(t) + 11} anchor="end" exp={expStr(t)} />
        </g>
      ))}
      <text x={cx} y={BOTTOM + 88} fontSize={FS} textAnchor="middle"><It>f</It></text>
      {/* legend */}
      <line x1={lx0} x2={lx1} y1={ly0} y2={ly0} stroke={GREEN} strokeWidth={4.5} />
      <text x={ltx} y={ly0 + 11} fontSize={FS}>{SxdotLabel(FS)}</text>
      <line x1={lx0} x2={lx1} y1={ly1} y2={ly1} stroke={PURPLE} strokeWidth={4.5} />
      <text x={ltx} y={ly1 + 11} fontSize={FS}>{TwoDLabel(FS)}</text>
    </g>
  );
}

export default function App() {
  React.useEffect(() => {
    document.body.style.margin = "0";
  }, []);
  return (
    <svg width={W} height={H} style={{ position: "absolute", left: 0, top: 0, background: "#fff" }} fontFamily={FONT}>
      <rect width={W} height={H} fill="#fff" />
      {ROWS.map((r, i) => (
        <g key={i} transform={`translate(0,${r.dy})`}>
          <PanelA r={r} i={i} />
          <PanelB r={r} i={i} />
          <PanelC r={r} i={i} />
          <PanelD r={r} i={i} />
        </g>
      ))}
    </svg>
  );
}
